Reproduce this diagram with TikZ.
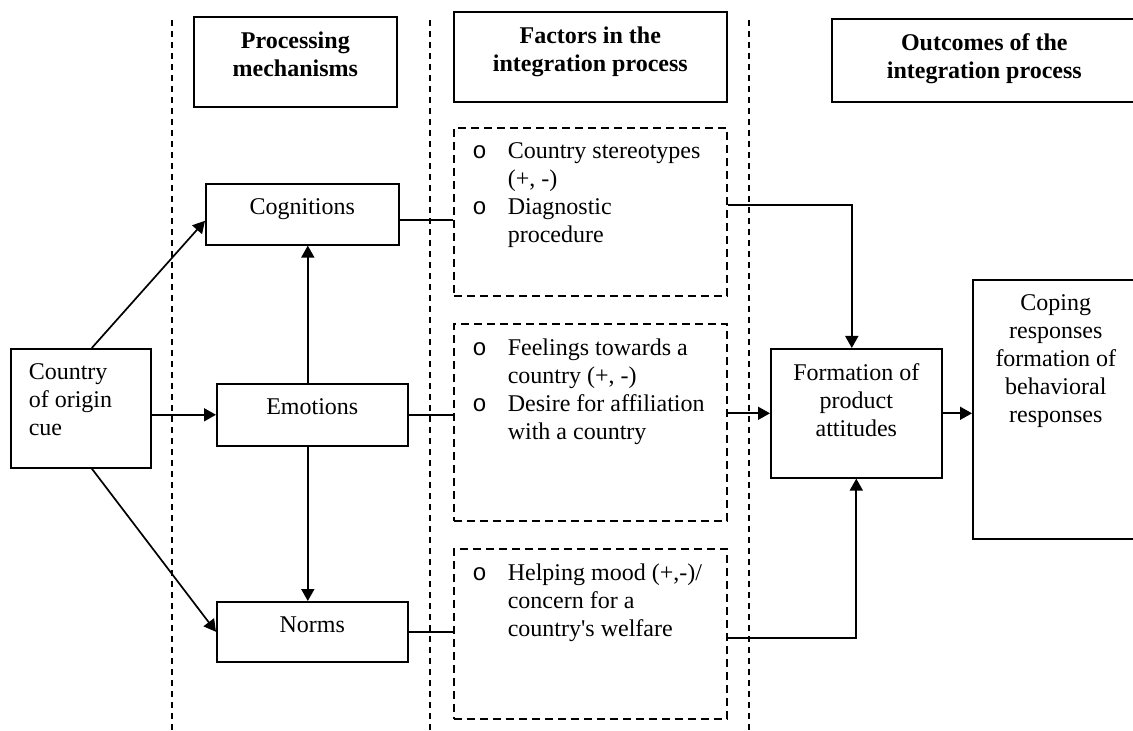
\documentclass[tikz,border=0pt]{standalone}
\usepackage{fontspec}
\setmainfont{Liberation Serif}
\newfontfamily\bulfont{Liberation Mono}
\usetikzlibrary{arrows.meta}

% text set at the top of a box of fixed size
\newcommand{\boxtext}[3]{\parbox[c][#2][t]{#1}{\vspace*{7.4pt}#3\par}}
\newcommand{\bul}{\leavevmode\llap{{\bulfont o}\hspace{10.5pt}}}

\begin{document}
\begin{tikzpicture}[x=0.5pt, y=-0.5pt,
    every node/.style={font=\fontsize{12}{14}\selectfont},
    box/.style={draw, line width=0.8pt, inner sep=0pt, anchor=north west},
    factbox/.style={box, dash pattern=on 4pt off 2.5pt},
    sep/.style={line width=0.65pt, dash pattern=on 3pt off 2.5pt},
    link/.style={line width=0.85pt},
    arr/.style={link, -{Triangle[length=6pt,width=6.5pt]}}]
        \useasboundingbox (0,0) rectangle (1133,731);

        % column separators
        \draw[sep] (172,20) -- (172,731);
        \draw[sep] (430,20) -- (430,731);
        \draw[sep] (749,20) -- (749,731);

        % headers
        \node[box] (proc) at (193,16) {\boxtext{101.5pt}{45pt}{\centering\bfseries Processing\\ mechanisms}};
        \node[box] (fact) at (453,11) {\boxtext{136.5pt}{45pt}{\centering\bfseries Factors in the\\ integration process}};
        \node[box] (outc) at (831,18) {\boxtext{152.5pt}{41.5pt}{\centering\bfseries Outcomes of the\\ integration process}};

        % cue and processing mechanisms
        \node[box] (cue) at (10,348) {\boxtext{70pt}{59.5pt}{\raggedright\leftskip=9pt Country\\ of origin\\ cue}};
        \node[box] (cog) at (205,183) {\boxtext{96.5pt}{30.5pt}{\centering Cognitions}};
        \node[box] (emo) at (216,383) {\boxtext{95.5pt}{31pt}{\centering Emotions}};
        \node[box] (norm) at (216,601) {\boxtext{95.5pt}{30pt}{\centering Norms}};

        % factors
        \node[factbox] (fac1) at (453,127) {\boxtext{136.5pt}{84pt}{\raggedright\leftskip=27pt
            \bul Country stereotypes\\ (+, -)\par
            \bul Diagnostic\\ procedure}};
        \node[factbox] (fac2) at (453,323) {\boxtext{136.5pt}{98.5pt}{\raggedright\leftskip=27pt
            \bul Feelings towards a\\ country (+, -)\par
            \bul Desire for affiliation\\ with a country}};
        \node[factbox] (fac3) at (453,548) {\boxtext{136.5pt}{85pt}{\raggedright\leftskip=27pt
            \bul Helping mood (+,-)/\\ concern for a\\ country\textquotesingle s welfare}};

        % outcomes
        \node[box] (form) at (770,348) {\boxtext{85.5pt}{64.5pt}{\centering Formation of\\ product\\ attitudes}};
        \node[box] (cope) at (972,279) {\boxtext{83pt}{129.5pt}{\centering Coping\\ responses\\ formation of\\ behavioral\\ responses}};

        % connectors
        \draw[arr] ([xshift=5.5pt]cue.north) -- ([yshift=-3.25pt]cog.west);
        \draw[arr] (cue.east |- emo.west) -- (emo.west);
        \draw[arr] ([xshift=5.5pt]cue.south) -- (norm.west);

        \draw[arr] (emo.north) ++(-2.25pt,0) coordinate (eup) -- (eup |- cog.south);
        \draw[arr] (emo.south) ++(-2.25pt,0) coordinate (edn) -- (edn |- norm.north);

        \draw[link] ([yshift=-2.75pt]cog.east) coordinate (c1) -- (c1 -| fac1.west);
        \draw[link] (emo.east) -- (emo.east -| fac2.west);
        \draw[link] (norm.east) -- (norm.east -| fac3.west);

        \draw[arr] ([yshift=3.5pt]fac1.east) -| ([xshift=-2.25pt]form.north);
        \draw[arr] (fac2.east |- form.west) -- (form.west);
        \draw[arr] ([yshift=-2pt]fac3.east) -| (form.south);
        \draw[arr] (form.east) -- (form.east -| cope.west);

    \end{tikzpicture}
\end{document}
